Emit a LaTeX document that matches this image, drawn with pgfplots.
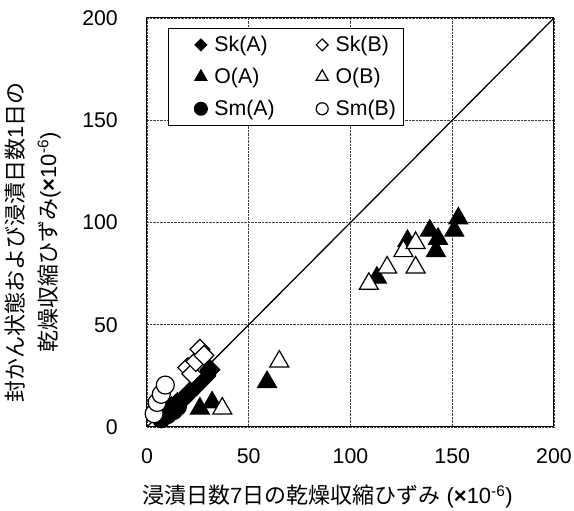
\documentclass[border=0pt]{standalone}
\usepackage{pgfplots}
\pgfplotsset{compat=1.18}
\usepackage{fontspec}
\setmainfont{Liberation Sans}
\newfontfamily\jp{Noto Sans CJK JP}
\begin{document}
\begin{tikzpicture}
\begin{axis}[
  name=ax,
  scale only axis, width=407pt, height=409pt,
  xmin=0,xmax=200,ymin=0,ymax=200,
  xtick={0,50,100,150,200}, ytick={0,50,100,150,200},
  grid=major, grid style={densely dotted, black!75, line width=0.8pt},
  major tick length=0pt,
  axis line style={line width=1pt},
  tick label style={font=\fontsize{21.3}{24}\selectfont, inner sep=0pt},
  /pgf/number format/assume math mode=true,
  yticklabel shift=29pt, xticklabel shift=21pt,
  xlabel={{\jp 浸漬日数}7{\jp 日の乾燥収縮ひずみ} (\textbf{×}10\textsuperscript{-6})},
  xlabel style={at={([xshift=-23pt,yshift=-70pt]axis description cs:0.5,0)}, anchor=center, font=\fontsize{22}{26}\selectfont},
  ylabel={{\jp 封かん状態および浸漬日数}1{\jp 日の}\\{\jp 乾燥収縮ひずみ}(\textbf{×}10\textsuperscript{-6})},
  ylabel style={at={([xshift=-114.5pt,yshift=-20pt]axis description cs:0,0.5)}, anchor=center, align=center, font=\fontsize{22}{33}\selectfont},
  legend columns=2,
  legend cell align=left,
  legend style={at={(axis description cs:0.0516,0.9756)}, anchor=north west, draw=black, line width=0.9pt,
    font=\fontsize{21.3}{24}\selectfont, inner xsep=4pt, inner ysep=5pt, row sep=9pt,
    /tikz/every odd column/.style={column sep=4pt},
    /tikz/every even column/.style={column sep=16pt},
    nodes={inner sep=3pt}},
  legend image code/.code={\path (-28pt,0pt) (6pt,0pt); \draw[#1] plot coordinates {(0pt,0pt)};},
]
\addplot[black, line width=1.3pt, forget plot] coordinates {(0,0)(200,200)};
% Sk(A)
\addplot[only marks, mark=square*, mark size=7pt, mark options={rotate=45, fill=black, draw=black, line width=1pt},
  legend image post style={mark size=4.2pt}] coordinates {
(12,10)(15,12)(18,14)(21,17)(24,20)(27,23)(29,25)(31,28)};
\addlegendentry{Sk(A)}
% Sk(B)
\addplot[only marks, mark=square*, mark size=7pt, mark options={rotate=45, fill=white, draw=black, line width=1.2pt},
  legend image post style={mark size=4.2pt}] coordinates {
(20,29)(22,26)(24,32)(26,38)(28,35)};
\addlegendentry{Sk(B)}
% O(A)
\addplot[only marks, mark=triangle*, mark size=11pt, mark options={fill=black, draw=black, line width=1pt},
  legend image post style={mark size=7pt}] coordinates {
(26,9)(32,12)(59,22)(113,73)(128,91)(139,96)(142,86)(143,92)(151,96)(153,102)};
\addlegendentry{O(A)}
% O(B)
\addplot[only marks, mark=triangle*, mark size=11pt, mark options={fill=white, draw=black, line width=1.2pt},
  legend image post style={mark size=7pt}] coordinates {
(37,9)(65,32)(109,70)(118,78)(126,86)(132,78)(132,90)};
\addlegendentry{O(B)}
% Sm(A)
\addplot[only marks, mark=*, mark size=9pt, mark options={fill=black, draw=black, line width=1pt},
  legend image post style={mark size=6.5pt}] coordinates {
(7,4)(10,6)(13,8)(15,10)};
\addlegendentry{Sm(A)}
% Sm(B)
\addplot[only marks, mark=*, mark size=9pt, mark options={fill=white, draw=black, line width=1.2pt},
  legend image post style={mark size=6pt}] coordinates {
(3.5,6.5)(5,12)(7,16)(9,20.5)};
\addlegendentry{Sm(B)}
\end{axis}
\pgfresetboundingbox
\path (ax.south west) ++(-147pt,-84pt) rectangle ++(574pt,511pt);
\end{tikzpicture}
\end{document}
